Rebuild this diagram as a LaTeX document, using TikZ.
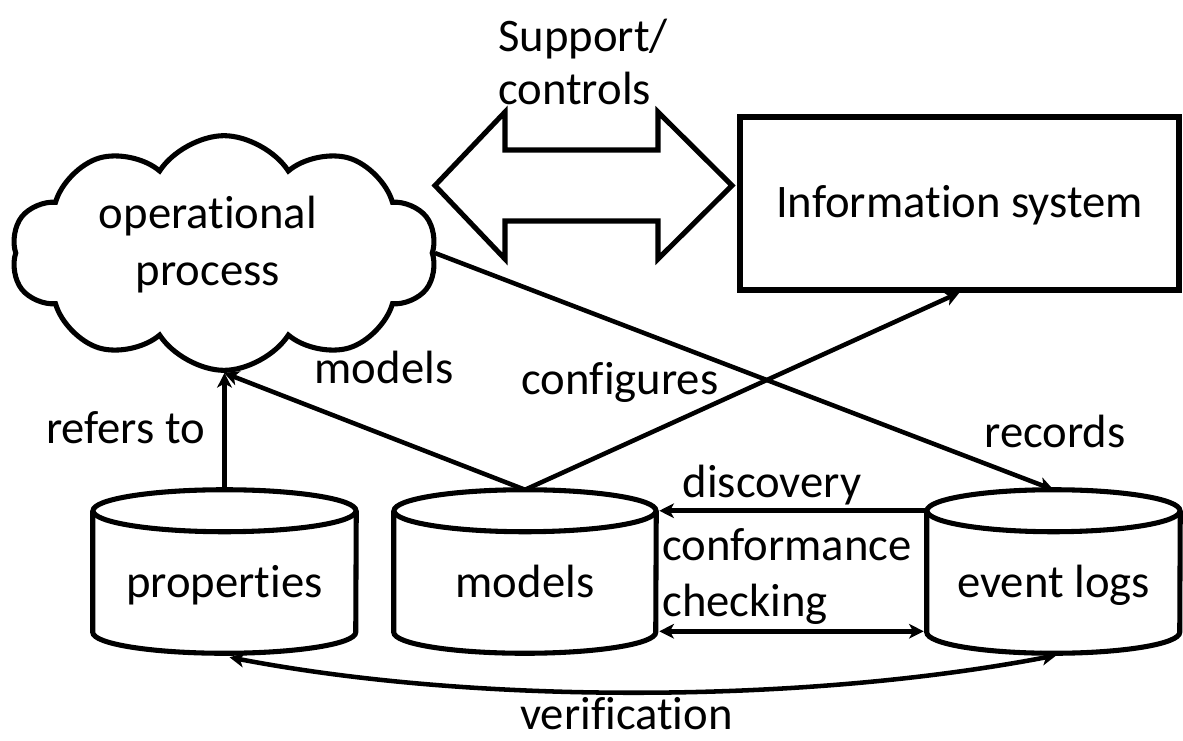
\documentclass[tikz,border=0pt]{standalone}
\usepackage{fontspec}
\setmainfont{Carlito}[RawFeature={-liga}]
\usetikzlibrary{shapes.symbols,arrows.meta,calc}

\begin{document}
\begin{tikzpicture}[x=0.75pt,y=-0.75pt,
  outline/.style={line width=3.8pt, line join=miter},
  conn/.style={line width=3.4pt, -{Stealth[length=11pt,width=11pt,inset=3pt]}},
  biconn/.style={line width=3.4pt, {Stealth[length=11pt,width=11pt,inset=3pt]}-{Stealth[length=11pt,width=11pt,inset=3pt]}},
  txt/.style={inner sep=0pt, font=\fontsize{35}{42}\selectfont},
  store/.style={rectangle, inner sep=0pt, minimum width=#1, text height=80.25pt, text depth=42pt, font=\fontsize{35}{42}\selectfont},
  sysbox/.style={rectangle, draw, outline, inner sep=0pt, minimum width=329.25pt, text height=75pt, text depth=54.75pt, font=\fontsize{35}{42}\selectfont},
]
\useasboundingbox (0,0) rectangle (1183,740);

% the operational process
\node[cloud, draw, outline, cloud puffs=10, cloud puff arc=115, aspect=1.9,
      minimum width=319pt, minimum height=176pt, inner sep=0pt] (proc) at (224,253) {};
\node[txt, align=center, font=\fontsize{35}{42.75}\selectfont] (proctext) at (208,245) {operational\\process};

% the information system
\node[sysbox] (info) at (959.5,203.5) {Information system};

% support / controls double arrow
\draw[outline] (435,185.5) -- (505,112) -- (505,150) -- (658,150) -- (658,112) -- (732,185.5)
  -- (658,259) -- (658,221) -- (505,221) -- (505,259) -- cycle;
\node[txt, align=left, anchor=west, font=\fontsize{35}{39.75}\selectfont] (support) at (498,62) {Support/\\controls};

% the three stores
\node[store=197.25pt] (prop) at (224.5,571.5) {properties};
\node[store=196.5pt]  (mod)  at (525,571.5)   {models};
\node[store=189.75pt] (logs) at (1053.5,571.5) {event logs};

\foreach \n/\r in {prop/98.625pt, mod/98.25pt, logs/94.875pt} {
  \draw[outline] ($(\n.north)+(0,21)$) ellipse [x radius=\r, y radius=15.75pt];
  \draw[outline] ($(\n.north west)+(0,21)$) -- ($(\n.south west)+(0,-21)$)
    arc[start angle=180, end angle=360, x radius=\r, y radius=15.75pt]
    -- ($(\n.north east)+(0,21)$);
}

% connectors
\draw[conn] (prop.north) -- (prop.north |- proc.south);
\node[txt, anchor=base] (refers) at (125.5,443) {refers to};

\draw[conn] (mod.north) -- (proc.south);
\node[txt, anchor=base] (modlbl) at (384,383) {models};

\draw[conn] (mod.north) -- (info.south);
\node[txt, anchor=base] (conf) at (620,394) {configures};

\draw[conn] (proc.east) -- (logs.north);
\node[txt, anchor=base] (rec) at (1055,447) {records};

\draw[conn] ($(logs.north west)+(0,21)$) -- ($(mod.north east)+(3,21)$);
\node[txt, anchor=base] (disc) at (772,497) {discovery};

\draw[biconn] ($(mod.south east)+(3,-22)$) -- ($(logs.south west)+(-3,-22)$);
\node[txt, align=left, anchor=west, font=\fontsize{35}{42}\selectfont] (cc) at (662,577) {conformance\\checking};

\draw[biconn] ($(prop.south)+(5,4)$) .. controls +(250,48) and +(-250,48) .. ($(logs.south)+(3,2)$);
\node[txt, anchor=base] (verif) at (626.5,729) {verification};
\end{tikzpicture}
\end{document}
